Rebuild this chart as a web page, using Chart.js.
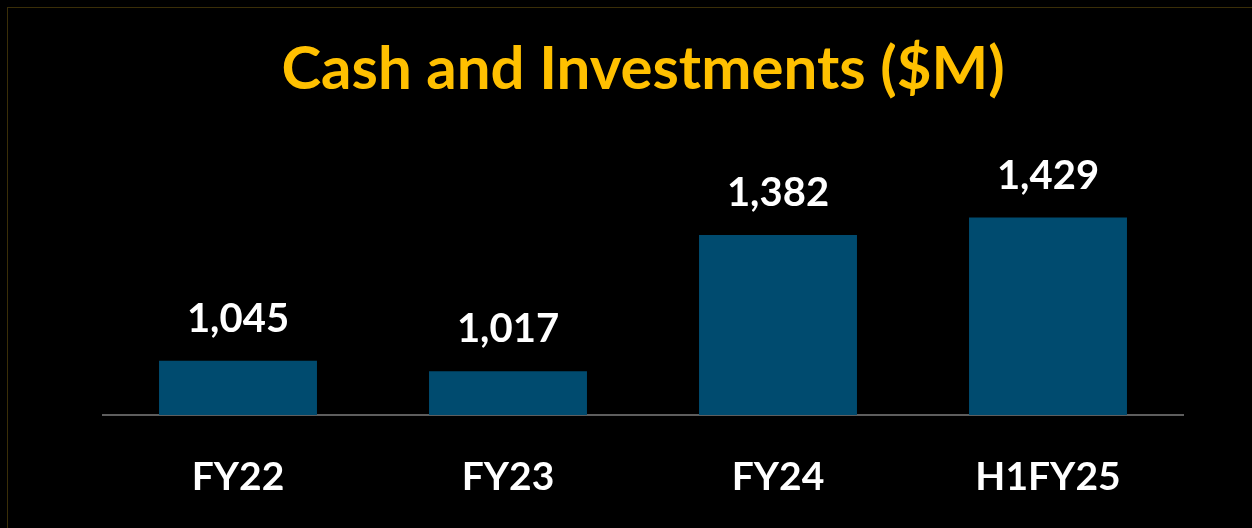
<!DOCTYPE html>
<html>
<head>
<meta charset="utf-8">
<script src="https://cdn.jsdelivr.net/npm/chart.js@4.4.1/dist/chart.umd.min.js"></script>
<style>
    html, body { margin: 0; padding: 0; background: #000; }
    #wrap { position: relative; width: 1252px; height: 528px; }
    #frame { position: absolute; left: 7px; top: 7px; right: -2px; bottom: -2px; border: 1px solid #3a2e08; pointer-events: none; }
</style>
</head>
<body>
<div id="wrap">
    <canvas id="grafico" width="1252" height="528"></canvas>
    <div id="frame"></div>
</div>
<script>
// dados
const categorias = ['FY22', 'FY23', 'FY24', 'H1FY25'];
const valores = [1045, 1017, 1382, 1429];
const titulo = 'Cash and Investments ($M)';

// rótulos em cima das barras
const rotulosBarras = {
    id: 'rotulosBarras',
    afterDatasetsDraw(chart) {
        const ctx = chart.ctx;
        const meta = chart.getDatasetMeta(0);
        ctx.save();
        ctx.fillStyle = '#ffffff';
        ctx.font = 'bold 40px Lato';
        ctx.textAlign = 'center';
        ctx.textBaseline = 'alphabetic';
        meta.data.forEach((bar, i) => {
            ctx.fillText(valores[i].toLocaleString('en-US'), bar.x, bar.y - 29);
        });
        ctx.restore();
    }
};

const config = {
    type: 'bar',
    data: {
        labels: categorias,
        datasets: [{
            data: valores,
            backgroundColor: '#004b6f',
            categoryPercentage: 1,
            barPercentage: 0.585
        }]
    },
    options: {
        responsive: false,
        animation: false,
        layout: {
            padding: { left: 103, right: 69, top: 0, bottom: 30 }
        },
        plugins: {
            legend: { display: false },
            tooltip: { enabled: false },
            title: {
                display: true,
                text: titulo,
                color: '#ffc000',
                font: { family: 'Lato', size: 60, weight: 'bold' },
                padding: { top: 34, bottom: 85 }
            }
        },
        scales: {
            x: {
                grid: { display: false, drawTicks: false },
                border: { display: true, color: '#5e5e5e', width: 2 },
                ticks: {
                    color: '#ffffff',
                    padding: 39,
                    font: { family: 'Lato', size: 39, weight: 'bold' }
                },
                afterFit(scale) {
                    scale.height = 83;
                }
            },
            y: {
                display: false,
                min: 900,
                max: 1500
            }
        }
    },
    plugins: [rotulosBarras]
};

const chartCaixa = new Chart(document.getElementById('grafico'), config);
</script>
</body>
</html>
